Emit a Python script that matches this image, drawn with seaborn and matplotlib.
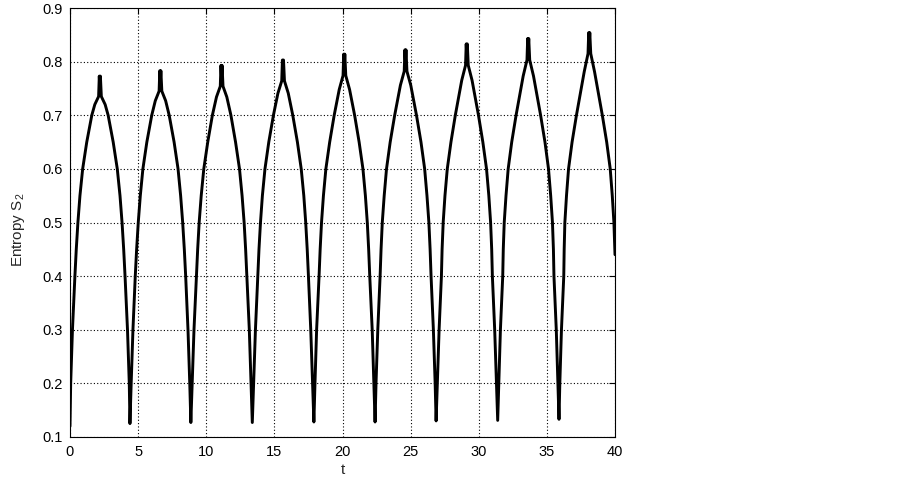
import matplotlib
matplotlib.use("Agg")
import matplotlib.pyplot as plt
import seaborn as sns
import pandas as pd

# time values (one line per arch, min -> peak -> min)
t_values = [
    0.00,
    0.05, 0.18, 0.36, 0.46, 0.58, 0.73, 0.93, 1.23, 1.60, 1.82, 2.10, 2.15, 2.19, 2.23, 2.30, 2.58, 2.80, 3.17, 3.47, 3.67, 3.82, 3.94, 4.04, 4.22, 4.35,
    4.40,
    4.49, 4.62, 4.79, 4.89, 5.01, 5.16, 5.35, 5.64, 6.00, 6.26, 6.54, 6.59, 6.63, 6.67, 6.74, 7.02, 7.28, 7.64, 7.93, 8.12, 8.27, 8.39, 8.49, 8.66, 8.79,
    8.87,
    8.97, 9.10, 9.28, 9.37, 9.48, 9.63, 9.82, 10.11, 10.45, 10.75, 11.03, 11.08, 11.12, 11.16, 11.23, 11.51, 11.81, 12.15, 12.44, 12.63, 12.78, 12.89, 12.98, 13.16, 13.29,
    13.38,
    13.48, 13.61, 13.78, 13.87, 13.98, 14.12, 14.31, 14.59, 14.93, 15.26, 15.54, 15.59, 15.63, 15.67, 15.74, 16.02, 16.35, 16.69, 16.97, 17.16, 17.30, 17.41, 17.50, 17.67, 17.80,
    17.90,
    17.98, 18.10, 18.28, 18.36, 18.46, 18.60, 18.78, 19.06, 19.39, 19.76, 20.04, 20.09, 20.13, 20.17, 20.24, 20.52, 20.89, 21.22, 21.50, 21.68, 21.82, 21.92, 22.00, 22.18, 22.30,
    22.39,
    22.46, 22.59, 22.76, 22.83, 22.92, 23.06, 23.23, 23.50, 23.83, 24.25, 24.53, 24.58, 24.62, 24.66, 24.73, 25.01, 25.43, 25.76, 26.03, 26.20, 26.34, 26.43, 26.50, 26.67, 26.80,
    26.87,
    26.96, 27.09, 27.26, 27.31, 27.39, 27.52, 27.69, 27.96, 28.28, 28.75, 29.03, 29.08, 29.12, 29.16, 29.23, 29.51, 29.98, 30.30, 30.57, 30.74, 30.87, 30.95, 31.00, 31.17, 31.30,
    31.39,
    31.47, 31.59, 31.76, 31.80, 31.87, 32.00, 32.16, 32.42, 32.74, 33.26, 33.54, 33.59, 33.63, 33.67, 33.74, 34.02, 34.54, 34.86, 35.12, 35.28, 35.41, 35.48, 35.52, 35.69, 35.81,
    35.89,
    35.95, 36.07, 36.24, 36.27, 36.32, 36.44, 36.59, 36.85, 37.17, 37.74, 38.02, 38.07, 38.11, 38.15, 38.22, 38.50, 39.07, 39.39, 39.65, 39.80, 39.92, 40.00,
]

# entropy S2 values matching t_values
s_values = [
    0.120,
    0.20, 0.30, 0.40, 0.45, 0.50, 0.55, 0.60, 0.65, 0.70, 0.720, 0.735, 0.773, 0.753, 0.773, 0.735, 0.720, 0.70, 0.65, 0.60, 0.55, 0.50, 0.45, 0.40, 0.30, 0.20,
    0.125,
    0.20, 0.30, 0.40, 0.45, 0.50, 0.55, 0.60, 0.65, 0.70, 0.727, 0.745, 0.783, 0.763, 0.783, 0.745, 0.727, 0.70, 0.65, 0.60, 0.55, 0.50, 0.45, 0.40, 0.30, 0.20,
    0.127,
    0.20, 0.30, 0.40, 0.45, 0.50, 0.55, 0.60, 0.65, 0.70, 0.734, 0.754, 0.793, 0.773, 0.793, 0.754, 0.734, 0.70, 0.65, 0.60, 0.55, 0.50, 0.45, 0.40, 0.30, 0.20,
    0.127,
    0.20, 0.30, 0.40, 0.45, 0.50, 0.55, 0.60, 0.65, 0.70, 0.741, 0.764, 0.803, 0.783, 0.803, 0.764, 0.741, 0.70, 0.65, 0.60, 0.55, 0.50, 0.45, 0.40, 0.30, 0.20,
    0.128,
    0.20, 0.30, 0.40, 0.45, 0.50, 0.55, 0.60, 0.65, 0.70, 0.748, 0.774, 0.814, 0.794, 0.814, 0.774, 0.748, 0.70, 0.65, 0.60, 0.55, 0.50, 0.45, 0.40, 0.30, 0.20,
    0.128,
    0.20, 0.30, 0.40, 0.45, 0.50, 0.55, 0.60, 0.65, 0.70, 0.756, 0.782, 0.822, 0.802, 0.822, 0.782, 0.756, 0.70, 0.65, 0.60, 0.55, 0.50, 0.45, 0.40, 0.30, 0.20,
    0.130,
    0.20, 0.30, 0.40, 0.45, 0.50, 0.55, 0.60, 0.65, 0.70, 0.765, 0.793, 0.833, 0.813, 0.833, 0.793, 0.765, 0.70, 0.65, 0.60, 0.55, 0.50, 0.45, 0.40, 0.30, 0.20,
    0.131,
    0.20, 0.30, 0.40, 0.45, 0.50, 0.55, 0.60, 0.65, 0.70, 0.773, 0.803, 0.843, 0.823, 0.843, 0.803, 0.773, 0.70, 0.65, 0.60, 0.55, 0.50, 0.45, 0.40, 0.30, 0.20,
    0.133,
    0.20, 0.30, 0.40, 0.45, 0.50, 0.55, 0.60, 0.65, 0.70, 0.781, 0.815, 0.854, 0.834, 0.854, 0.815, 0.781, 0.70, 0.65, 0.60, 0.55, 0.50, 0.44,
]

x_ticks = [0, 5, 10, 15, 20, 25, 30, 35, 40]
y_ticks = [0.1, 0.2, 0.3, 0.4, 0.5, 0.6, 0.7, 0.8, 0.9]
y_tick_labels = ["0.1", "0.2", "0.3", "0.4", "0.5", "0.6", "0.7", "0.8", "0.9"]
x_label = "t"
y_label = "Entropy S$_2$"

sns.set_style("white")
plt.rcParams["font.family"] = ["Liberation Sans", "DejaVu Sans"]
plt.rcParams["mathtext.default"] = "regular"

fig = plt.figure(figsize=(9.02, 4.84), dpi=100)
ax = fig.add_axes([70 / 902, 1 - 437 / 484, 545 / 902, 429 / 484])

df = pd.DataFrame({"t": t_values, "S2": s_values})
sns.lineplot(data=df, x="t", y="S2", ax=ax, color="black", linewidth=2.1,
             sort=False, estimator=None)

ax.set_xlim(0, 40)
ax.set_ylim(0.1, 0.9)
ax.set_xticks(x_ticks)
ax.set_xticklabels([str(v) for v in x_ticks])
ax.set_yticks(y_ticks)
ax.set_yticklabels(y_tick_labels)
ax.grid(True, color="black", linestyle=(0, (1, 2)), linewidth=0.8)
ax.set_axisbelow(True)
ax.tick_params(direction="in", top=True, right=True, length=4, width=0.8,
               labelsize=10.5, colors="black", pad=5)
ax.tick_params(axis="x", pad=6)
for sp in ax.spines.values():
    sp.set_color("black")
    sp.set_linewidth(0.8)
    sp.set_visible(True)

ax.set_xlabel(x_label, fontsize=11, labelpad=3)
ax.set_ylabel(y_label, fontsize=11)
ax.yaxis.set_label_coords(-0.078, 0.483)

fig.savefig("out.png", dpi=100)
